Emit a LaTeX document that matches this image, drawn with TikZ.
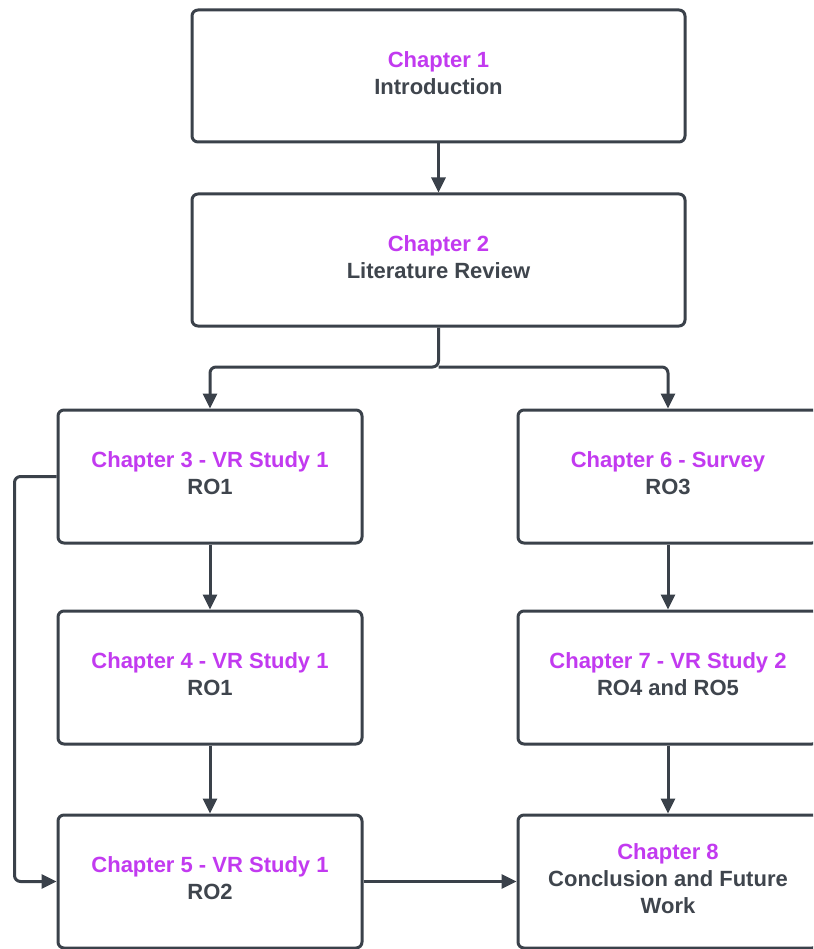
\documentclass[tikz,border=0pt]{standalone}
\usepackage{fontspec}
\setmainfont{Liberation Sans}
\usetikzlibrary{arrows.meta}
\definecolor{ln}{HTML}{3A414A}
\definecolor{txt}{HTML}{3F454D}
\definecolor{pur}{HTML}{C23AF0}
\begin{document}
\begin{tikzpicture}[x=1pt,y=-1pt,
  box/.style={draw=ln, line width=3pt, rounded corners=6pt, fill=white, inner sep=0pt},
  lbl/.style={align=center, font=\fontsize{22}{27}\selectfont\bfseries, text=txt, inner sep=0pt},
  lbox/.style={box, minimum width=304pt, minimum height=133pt},
  conn/.style={draw=ln, line width=3pt, rounded corners=6pt,
    -{Triangle[width=14pt,length=15pt]}}]
\clip (0,0) rectangle (813,949);
\node[box, minimum width=493pt, minimum height=132pt] (c1) at (438.5,76) {};
\node[box, minimum width=493pt, minimum height=132pt] (c2) at (438.5,260) {};
\node[lbox] (c3) at (210,476.5) {};
\node[lbox] (c4) at (210,677.5) {};
\node[lbox] (c5) at (210,881.5) {};
\node[lbox, minimum width=300pt] (c6) at (668,476.5) {};
\node[lbox, minimum width=300pt] (c7) at (668,677.5) {};
\node[lbox, minimum width=300pt] (c8) at (668,881.5) {};
\node[lbl] (t1) at ([yshift=3pt]c1.center) {\textcolor{pur}{Chapter 1}\\Introduction};
\node[lbl] (t2) at ([yshift=3pt]c2.center) {\textcolor{pur}{Chapter 2}\\Literature Review};
\node[lbl] (t3) at ([yshift=3pt]c3.center) {\textcolor{pur}{Chapter 3 - VR Study 1}\\RO1};
\node[lbl] (t4) at ([yshift=3pt]c4.center) {\textcolor{pur}{Chapter 4 - VR Study 1}\\RO1};
\node[lbl] (t5) at ([yshift=3pt]c5.center) {\textcolor{pur}{Chapter 5 - VR Study 1}\\RO2};
\node[lbl] (t6) at ([yshift=3pt]c6.center) {\textcolor{pur}{Chapter 6 - Survey}\\RO3};
\node[lbl] (t7) at ([yshift=3pt]c7.center) {\textcolor{pur}{Chapter 7 - VR Study 2}\\RO4 and RO5};
\node[lbl] (t8) at ([yshift=3pt]c8.center) {\textcolor{pur}{Chapter 8}\\Conclusion and Future\\Work};
\coordinate (j) at (438.5,367);
\draw[conn] (c1) -- (c2);
\draw[conn] (c2.south) -- (j) -| (c3.north);
\draw[conn] (j) -| (c6.north);
\draw[conn] (c3) -- (c4);
\draw[conn] (c4) -- (c5);
\draw[conn] (c6) -- (c7);
\draw[conn] (c7) -- (c8);
\draw[conn] (c3.west) -- ++(-42,0) |- (c5.west);
\draw[conn] (c5) -- (c8);
\end{tikzpicture}
\end{document}
